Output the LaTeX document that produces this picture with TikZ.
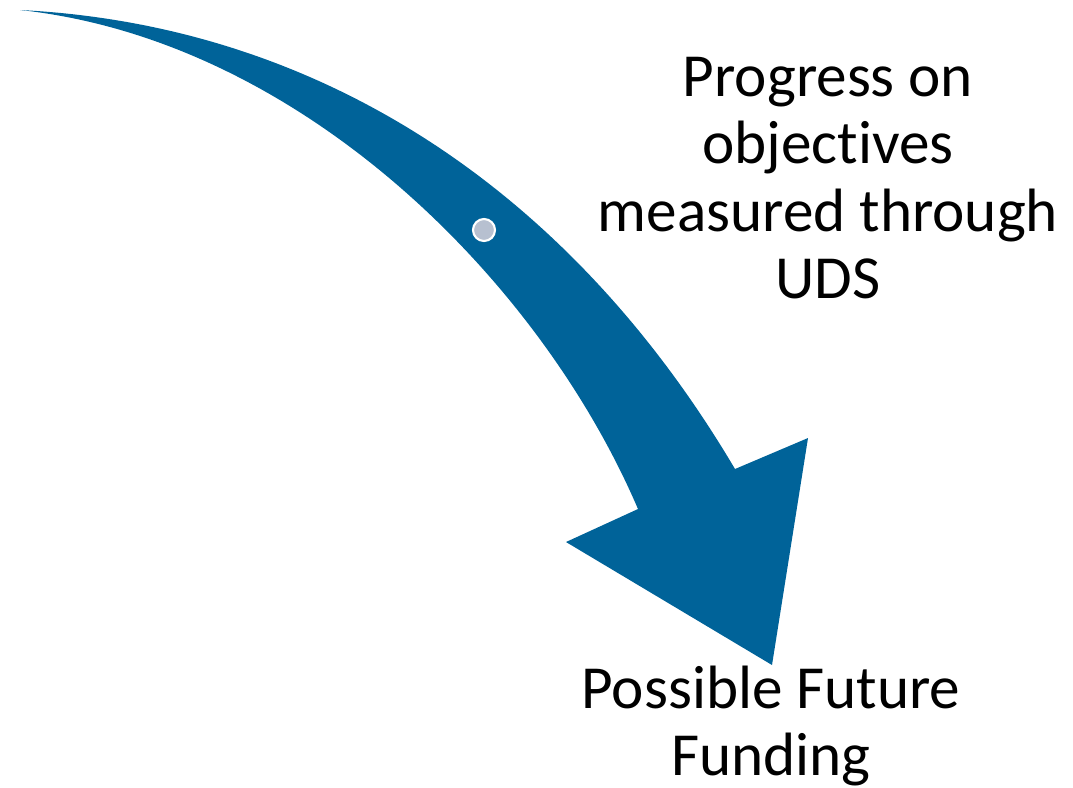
\documentclass[tikz,border=0pt]{standalone}
\usepackage{fontspec}
\setmainfont{Carlito}[Ligatures=NoCommon]
\usetikzlibrary{calc}
\definecolor{arrowblue}{RGB}{0,99,153}
\definecolor{dotgrey}{RGB}{183,192,208}

\begin{document}
\begin{tikzpicture}[x=0.01cm, y=-0.01cm]
      \useasboundingbox (0,0) rectangle (1073,787);
      \tikzset{
        caption/.style={align=center, inner sep=0pt, font=\fontsize{17.4}{19.1}\selectfont},
        bullet/.style={circle, fill=dotgrey, draw=white, line width=0.6pt, inner sep=0pt, minimum size=0.22cm}
      }
      \coordinate (tail) at (20,10);
      \coordinate (neckR) at (735,469);
      \coordinate (barbR) at (808,438);
      \coordinate (tip) at (772,665);
      \coordinate (barbL) at (566,542);
      \coordinate (neckL) at (638,509);

      \fill[arrowblue] (tail) .. controls (320,25) and (570,190) .. (neckR) -- (barbR) -- (tip) -- (barbL) -- (neckL)
            .. controls (540,280) and (300,40) .. (tail) -- cycle;

      \node[bullet] (dot) at (484,230) {};

      \node[caption] (progress) at (828,178) {Progress on\\objectives\\measured through\\UDS};
      \node[caption] (funding) at (771,726) {Possible Future\\Funding};
    \end{tikzpicture}
\end{document}
